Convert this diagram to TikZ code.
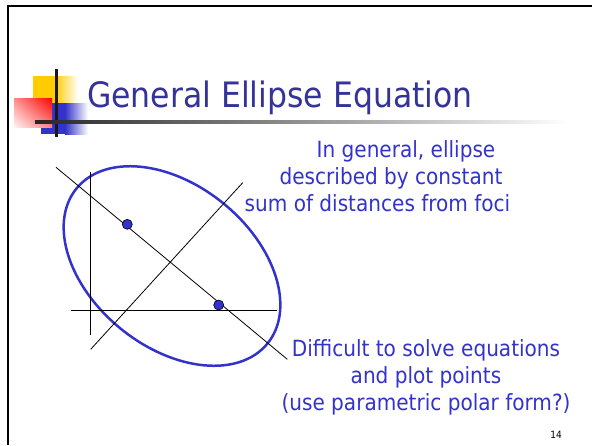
\documentclass[tikz,border=0pt]{standalone}
\usepackage{fontspec}
\setmainfont{DejaVu Sans Condensed}
\usetikzlibrary{shadings}
\begin{document}
\begin{tikzpicture}[x=1pt,y=1pt,
  titletext/.style={text=titleblue,font=\fontsize{35}{40}\selectfont,inner sep=0pt},
  bodytext/.style={text=bodyblue,font=\fontsize{22.3}{27}\selectfont,inner sep=0pt},
  thinline/.style={black,line width=0.8pt},
  focus/.style={circle,draw=black,fill=bodyblue,line width=0.6pt,minimum size=10pt,inner sep=0pt}]
\definecolor{titleblue}{RGB}{51,51,153}
\definecolor{bodyblue}{RGB}{51,51,204}
\definecolor{logoyellow}{RGB}{255,204,0}
\definecolor{logored}{RGB}{255,0,0}
\definecolor{logoblue}{RGB}{51,51,204}
\useasboundingbox[fill=white] (0,0) rectangle (592,-445);
% window frame
\draw[black,line width=2pt] (8,-445) -- (8,-6) -- (592,-6);
% logo
\fill[logoyellow] (33,-76) rectangle (55,-103);
\shade[left color=logoyellow,right color=white] (55,-76) rectangle (78,-103);
\fill[logoblue] (41,-103) rectangle (65,-134);
\shade[left color=logoblue,right color=white] (65,-103) rectangle (88,-134);
\shade[upper right=logored,upper left=logored!45!white,lower right=logored!50!white,lower left=logored!5!white] (14,-98) rectangle (52,-127);
\fill[black!90] (55,-69) rectangle (58,-137);
\shade[left color=black!85,right color=white] (35,-120) rectangle (570,-123);
% title
\node[titletext,anchor=base west] (title) at (87,-107) {General Ellipse Equation};
% ellipse figure
\coordinate (c) at (172,-266);
\draw[bodyblue,line width=2.5pt,rotate around={-39:(c)}] (c) ellipse [x radius=123,y radius=81];
\coordinate (v1) at (90.3,-172.3);
\coordinate (v2) at (90.3,-335);
\coordinate (h1) at (70.7,-310.7);
\coordinate (h2) at (277.3,-310.7);
\coordinate (m1) at (56,-167.3);
\coordinate (m2) at (287.3,-359.3);
\coordinate (n1) at (242.7,-182.7);
\coordinate (n2) at (90.7,-349.3);
\draw[thinline] (v1) -- (v2);
\draw[thinline] (h1) -- (h2);
\draw[thinline] (m1) -- (m2);
\draw[thinline] (n1) -- (n2);
\node[focus] (f1) at (127.3,-224.3) {};
\node[focus] (f2) at (218.7,-305) {};
% text
\node[bodytext,anchor=base] (t1) at (406,-157) {In general, ellipse};
\node[bodytext,anchor=base] (t2) at (391,-184) {described by constant};
\node[bodytext,anchor=base] (t3) at (377.5,-211) {sum of distances from foci};
\node[bodytext,anchor=base] (d1) at (426,-356) {Difficult to solve equations};
\node[bodytext,anchor=base] (d2) at (426,-383) {and plot points};
\node[bodytext,anchor=base] (d3) at (426,-410) {(use parametric polar form?)};
\node[inner sep=0pt,anchor=base,font=\fontsize{10}{12}\selectfont] (num) at (556,-438) {14};
\end{tikzpicture}
\end{document}
